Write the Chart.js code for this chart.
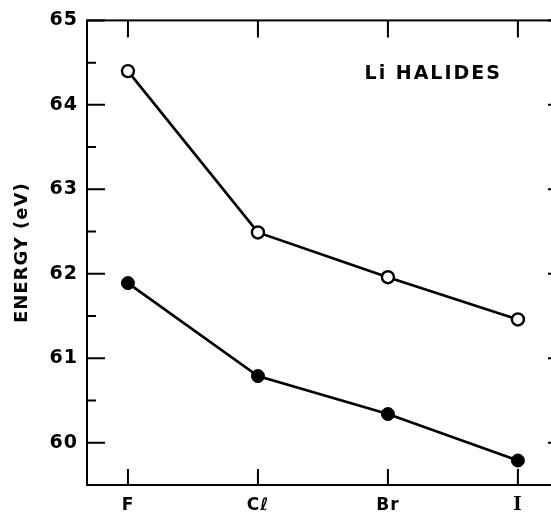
<!DOCTYPE html>
<html>
<head>
<meta charset="utf-8">
<script src="https://cdn.jsdelivr.net/npm/chart.js@4/dist/chart.umd.min.js"></script>
<style>
    html, body { margin: 0; padding: 0; background: #fff; overflow: hidden; }
    canvas { display: block; }
</style>
</head>
<body>
<canvas id="energyChart" width="580" height="514"></canvas>
<script>
// Li halides: two core-level energies per anion
const halides = ['F', 'Cℓ', 'Br', 'I'];
const openEnergies = [64.40, 62.49, 61.96, 61.46];
const filledEnergies = [61.89, 60.79, 60.34, 59.79];
const energyTicks = [60, 61, 62, 63, 64, 65];

const SANS = "'DejaVu Sans', sans-serif";

const toPoints = values => values.map((v, i) => ({ x: i, y: v }));

// frame with inward ticks on all four sides
const framePlugin = {
    id: 'frame',
    beforeDraw(chart) {
        chart.ctx.letterSpacing = '1px';
    },
    beforeDatasetsDraw(chart) {
        const { ctx, chartArea: a, scales: { x, y } } = chart;
        ctx.save();
        ctx.strokeStyle = '#000';
        ctx.lineWidth = 2;
        ctx.strokeRect(a.left, a.top, a.right - a.left, a.bottom - a.top);

        ctx.beginPath();
        for (let v = 59.5; v <= 65; v += 0.5) {
            const py = y.getPixelForValue(v);
            const len = Number.isInteger(v) ? 18 : 9;
            ctx.moveTo(a.left, py);
            ctx.lineTo(a.left + len, py);
            ctx.moveTo(a.right, py);
            ctx.lineTo(a.right - len, py);
        }
        halides.forEach((h, i) => {
            const px = x.getPixelForValue(i);
            ctx.moveTo(px, a.top);
            ctx.lineTo(px, a.top + 17);
            ctx.moveTo(px, a.bottom);
            ctx.lineTo(px, a.bottom - 16);
        });
        ctx.stroke();
        ctx.restore();
    },
    afterDraw(chart) {
        const { ctx, scales: { x, y } } = chart;
        ctx.save();
        ctx.fillStyle = '#000';
        ctx.font = 'bold 19px ' + SANS;
        ctx.letterSpacing = '2px';
        ctx.textAlign = 'left';
        ctx.textBaseline = 'middle';
        ctx.fillText('Li HALIDES', x.getPixelForValue(1.82), y.getPixelForValue(64.36));
        ctx.restore();
    }
};

const ctx = document.getElementById('energyChart').getContext('2d');
new Chart(ctx, {
    type: 'line',
    data: {
        datasets: [
            {
                data: toPoints(openEnergies),
                borderColor: '#000',
                borderWidth: 2.7,
                pointRadius: 6,
                pointBorderWidth: 2.4,
                pointBackgroundColor: '#fff',
                pointBorderColor: '#000',
                tension: 0
            },
            {
                data: toPoints(filledEnergies),
                borderColor: '#000',
                borderWidth: 2.7,
                pointRadius: 6.5,
                pointBorderWidth: 1,
                pointBackgroundColor: '#000',
                pointBorderColor: '#000',
                tension: 0
            }
        ]
    },
    options: {
        responsive: false,
        animation: false,
        layout: { padding: { top: 20, right: 14, left: 0, bottom: 0 } },
        plugins: {
            legend: { display: false },
            tooltip: { enabled: false }
        },
        scales: {
            x: {
                type: 'linear',
                min: -0.315,
                max: 3.37,
                grid: { display: false, drawTicks: false },
                border: { display: false },
                afterFit: scale => { scale.height = 29; },
                afterBuildTicks: scale => {
                    scale.ticks = halides.map((h, i) => ({ value: i }));
                },
                ticks: {
                    color: '#000',
                    padding: 10,
                    font: c => (c.index === 3
                        ? { family: "'DejaVu Serif', serif", size: 18, weight: 'bold' }
                        : { family: SANS, size: 17, weight: 'bold' }),
                    callback: value => halides[value]
                }
            },
            y: {
                min: 59.5,
                max: 65,
                grid: { display: false, drawTicks: false },
                border: { display: false },
                afterFit: scale => { scale.width = 87; },
                afterBuildTicks: scale => {
                    scale.ticks = energyTicks.map(v => ({ value: v }));
                },
                ticks: {
                    color: '#000',
                    padding: 9,
                    font: { family: SANS, size: 19, weight: 'bold' },
                    callback: value => String(value)
                },
                title: {
                    display: true,
                    text: 'ENERGY (eV)',
                    color: '#000',
                    font: { family: SANS, size: 18, weight: 'bold' },
                    padding: { top: 12, bottom: 0 }
                }
            }
        }
    },
    plugins: [framePlugin]
});
</script>
</body>
</html>
